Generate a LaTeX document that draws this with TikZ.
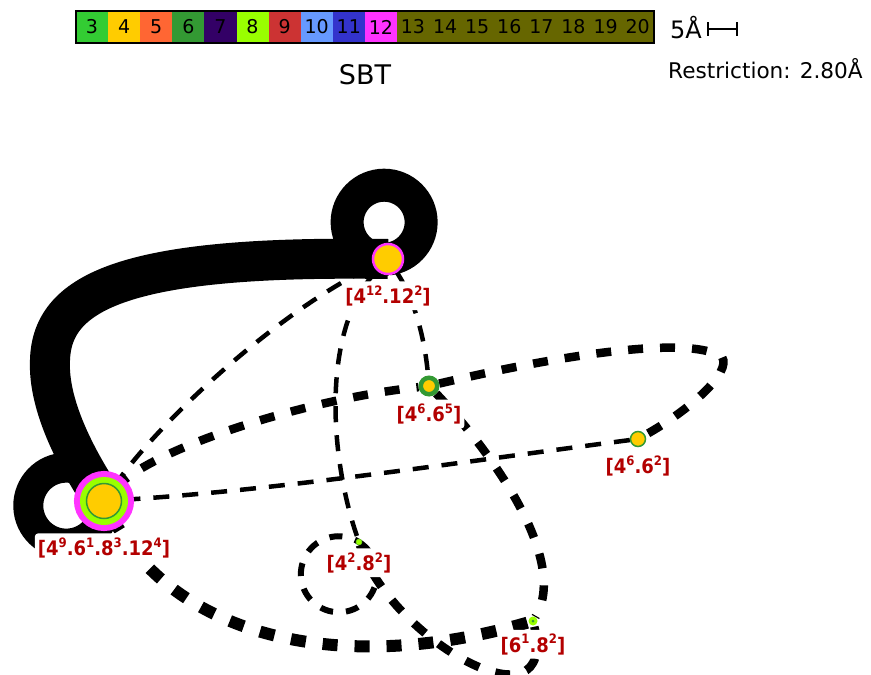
\documentclass[tikz,border=0pt]{standalone}
\usepackage{fontspec}
\setmainfont{DejaVu Sans}
\newfontfamily\labfont{DejaVu Sans Condensed Bold}
\usetikzlibrary{positioning, backgrounds}

\definecolor{rs3}{HTML}{33CC33}
\definecolor{rs4}{HTML}{FFCC00}
\definecolor{rs5}{HTML}{FF6633}
\definecolor{rs6}{HTML}{339933}
\definecolor{rs7}{HTML}{330066}
\definecolor{rs8}{HTML}{99FF00}
\definecolor{rs9}{HTML}{CC3333}
\definecolor{rs10}{HTML}{6699FF}
\definecolor{rs11}{HTML}{3333CC}
\definecolor{rs12}{HTML}{FF33FF}
\definecolor{rsbig}{HTML}{666600}
\definecolor{labred}{HTML}{B30000}

% superscript in site labels
\newcommand{\sitesup}[1]{\raisebox{8.5pt}{\fontsize{13}{13}\labfont #1}}

\begin{document}
\begin{tikzpicture}[x=1pt, y=-1pt,
    legend num/.style = {inner sep=0pt, font=\fontsize{19}{19}\selectfont},
    site/.style = {circle, inner sep=0pt, minimum size=#1},
    site label/.style = {
        fill=white,
        rounded corners=3pt,
        inner xsep=3pt,
        inner ysep=4pt,
        text=labred,
        font=\fontsize{20}{20}\labfont
    },
    thin link/.style = {line width=4.5pt, dash pattern=on 16pt off 13pt},
    mid link/.style = {line width=8.5pt, dash pattern=on 15pt off 17pt},
    wide link/.style = {line width=12pt, dash pattern=on 15pt off 17pt},
    ring link/.style = {line width=6pt, dash pattern=on 13pt off 13pt},
    solid band/.style = {line width=#1}
]
\useasboundingbox (0,0) rectangle (871,675);

% ring size legend
\foreach \n/\c [count=\i from 0] in {3/rs3, 4/rs4, 5/rs5, 6/rs6, 7/rs7, 8/rs8, 9/rs9, 10/rs10, 11/rs11, 12/rs12}
    \fill[\c] (76+32.1*\i, 11) rectangle ++(32.1, 32);
\fill[rsbig] (397, 11) rectangle (654, 43);
\foreach \n [count=\i from 0] in {3,...,20}
    \node[legend num] (num\n) at (92+32.1*\i, 27) {\n};
\draw[line width=1.5pt] (76,11) rectangle (654,43);

\node[anchor=base, font=\fontsize{27}{27}\selectfont] (title) at (365,84) {SBT};
\node[anchor=base west, inner sep=0pt, font=\fontsize{24}{24}\selectfont] (scale) at (670,38) {5Å};
\draw[line width=1.3pt] (708,22) -- (708,36) (708,29) -- (737,29) (737,22) -- (737,36);
\node[anchor=base west, inner sep=0pt, font=\fontsize{21.6}{21.6}\selectfont] (restr) at (668,78) {Restriction: 2.80Å};

% sites
\node[site=35pt, fill=rs4, draw=rs6, line width=1.5pt,
      preaction={draw=rs12, line width=25pt},
      preaction={draw=rs8, line width=13pt}] (A) at (104,501) {};
\node[site=30pt, fill=rs4, draw=rs12, line width=2.5pt] (B) at (388,259) {};
\node[site=16.5pt, fill=rs4, draw=rs6, line width=4.5pt] (C) at (429,386) {};
\node[site=15pt, fill=rs4, draw=rs6, line width=1.5pt] (D) at (638,439) {};
\node[site=6pt, fill=rs8, draw=rs6!50!rs8, line width=0.5pt] (E) at (359,542) {};
\node[site=9pt, fill=rs8, path picture={\fill[rs6] (path picture bounding box.center) circle (1.5pt);}] (F) at (533,621) {};
\coordinate (Cturn) at (722,357);
\coordinate (Mband) at (50,360);

% labels
\node[site label, below=14pt of A] (A label) {[4\sitesup{9}.6\sitesup{1}.8\sitesup{3}.12\sitesup{4}]};
\node[site label, below=6pt of B] (B label) {[4\sitesup{12}.12\sitesup{2}]};
\node[site label, below=3pt of C] (C label) {[4\sitesup{6}.6\sitesup{5}]};
\node[site label, below=4pt of D] (D label) {[4\sitesup{6}.6\sitesup{2}]};
\node[site label, below=3pt of E] (E label) {[4\sitesup{2}.8\sitesup{2}]};
\node[site label, below=4pt of F] (F label) {[6\sitesup{1}.8\sitesup{2}]};

\begin{pgfonlayer}{background}
% dashed links
\draw[thin link] (A) .. controls (160,420) and (280,310) .. (B);
\draw[thin link] (B) .. controls (320,330) and (330,460) .. (E);
\draw[thin link] (B) .. controls (415,300) and (425,340) .. (C);
\draw[thin link] (D) .. controls (460,462) and (280,490) .. (A);
\draw[mid link] (A) .. controls (150,450) and (300,400) .. (C);
\draw[mid link] (C) .. controls (560,355) and (690,335) .. (Cturn)
    .. controls (732,372) and (690,410) .. (D);
\draw[mid link] (C) .. controls (490,450) and (570,560) .. (F);
\draw[mid link] (E) .. controls (390,640) and (560,735) .. (F);
\draw[wide link] (A) .. controls (170,630) and (330,680) .. (F);
\draw[ring link] (E) arc[start angle=-58, delta angle=360, radius=38];

% solid links
\draw[solid band=40pt] (A.center) .. controls (70,450) and (48,400) .. (Mband)
    .. controls (52,290) and (130,255) .. (B.center);
\draw[solid band=33pt] (B.center) arc[start angle=84, delta angle=360, radius=37];
\draw[solid band=30pt] (A.center) arc[start angle=-7, delta angle=360, radius=38];
\end{pgfonlayer}

\end{tikzpicture}
\end{document}
